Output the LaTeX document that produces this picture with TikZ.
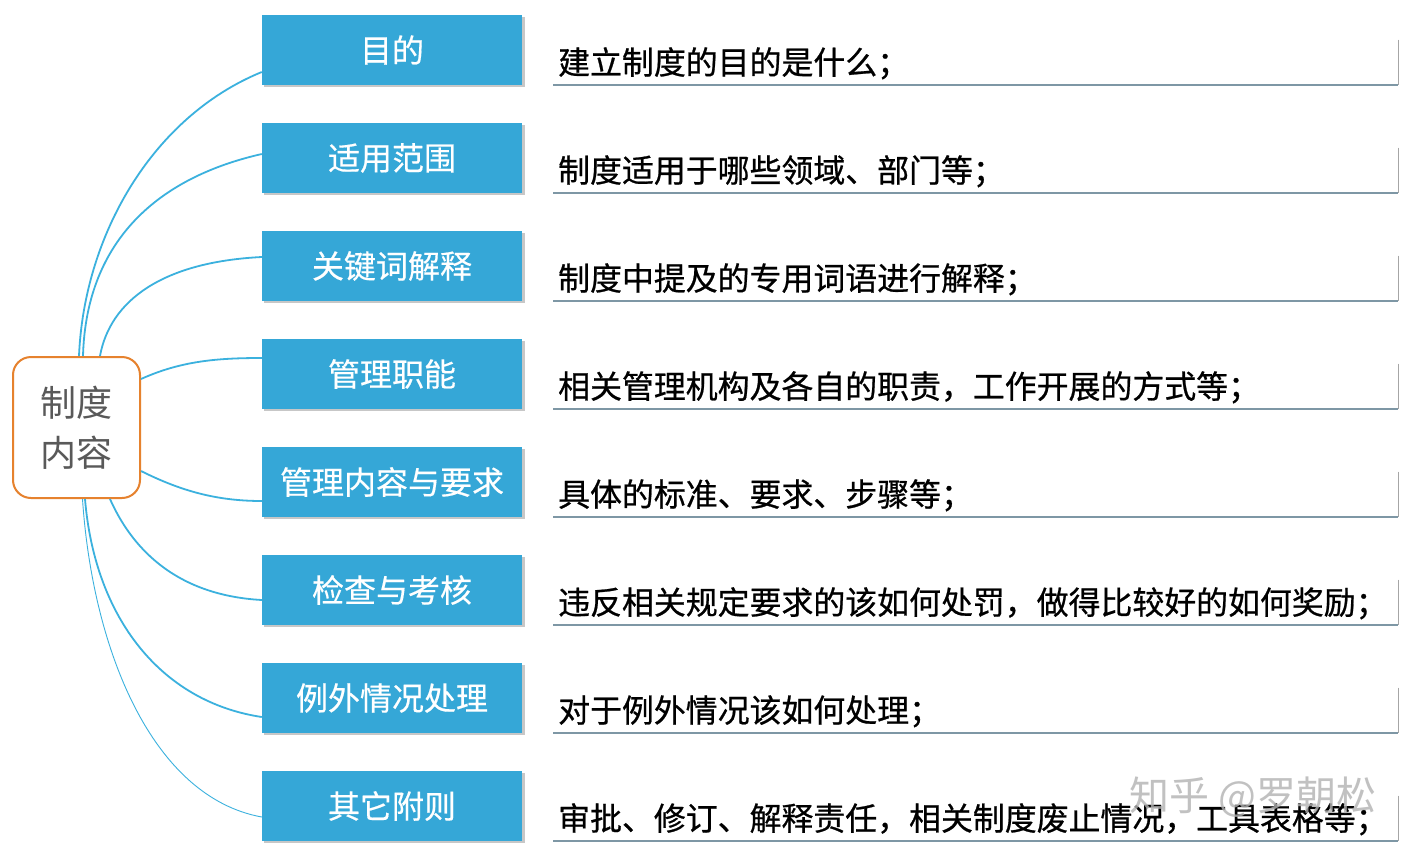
\documentclass[tikz,border=0pt]{standalone}
\usepackage{fontspec}
\newfontfamily\cjk{Noto Sans CJK SC}
\newfontfamily\cjkm[FakeBold=0.7]{Noto Sans CJK SC}
\newfontfamily\cjkl[FakeBold=0.4]{Noto Sans CJK SC}
\definecolor{boxblue}{HTML}{35A7D7}
\definecolor{linkblue}{HTML}{3BB1DE}
\definecolor{centerorange}{HTML}{E6822E}
\definecolor{centertext}{HTML}{595959}
\definecolor{shadowline}{HTML}{7E97A5}
\tikzset{
  centernode/.style={draw=centerorange, line width=2pt, rounded corners=18pt, fill=white,
    minimum width=127pt, minimum height=141pt, align=center, text=centertext,
    font=\cjk\fontsize{36}{50}\selectfont, inner sep=0pt},
  topicbox/.style={fill=boxblue, minimum width=260pt, minimum height=70pt, inner sep=0pt,
    text=white, font=\cjkl\fontsize{32}{36}\selectfont},
  descbox/.style={fill=white, minimum width=845pt, minimum height=45pt, inner sep=0pt,
    anchor=south west},
  desctext/.style={font=\cjkm\fontsize{31.9}{36}\selectfont, text=black, anchor=west, inner sep=0pt},
  link/.style={draw=linkblue, line width=1.8pt},
  thinlink/.style={draw=linkblue, line width=0.9pt},
}
\begin{document}
\begin{tikzpicture}[x=1pt,y=-1pt]
\useasboundingbox[fill=white] (0,0) rectangle (1422,860);

% topic boxes with shadows
\foreach \i/\y/\t in {1/50/目的, 2/158/适用范围, 3/266/关键词解释, 4/374/管理职能,
                      5/482/管理内容与要求, 6/590/检查与考核, 7/698/例外情况处理, 8/806/其它附则}{
  \fill[black!22] (264,\y-33) rectangle (525,\y+37);
  \node[topicbox] (b\i) at (392,\y) {\raisebox{-1pt}{\t}};
}

% description boxes
\foreach \i/\yb/\t in {1/85/建立制度的目的是什么；, 2/193/制度适用于哪些领域、部门等；,
    3/301/制度中提及的专用词语进行解释；, 4/409/相关管理机构及各自的职责，工作开展的方式等；,
    5/517/具体的标准、要求、步骤等；, 6/625/违反相关规定要求的该如何处罚，做得比较好的如何奖励；,
    7/733/对于例外情况该如何处理；, 8/841/审批、修订、解释责任，相关制度废止情况，工具表格等；}{
  \node[descbox] (d\i) at (553,\yb) {};
  \draw[shadowline, line width=2.2pt] (d\i.south west) -- (d\i.south east);
  \draw[black!35, line width=0.8pt] (d\i.north east) -- (d\i.south east);
  \node[desctext] (t\i) at ([xshift=5pt,yshift=-1pt]d\i.west) {\t};
}

% center node
\node[centernode] (c) at (76.5,427.5) {制度\\内容};

% connectors
\draw[link] ([xshift=2.5pt]c.north) .. controls +(5,-120) and +(-110,45) .. ([yshift=-22pt]b1.west);
\draw[link] ([xshift=6.5pt]c.north) .. controls +(3,-110) and +(-110,25) .. ([yshift=4pt]b2.west);
\draw[link] ([xshift=23.5pt]c.north) .. controls +(10,-55) and +(-100,5) .. ([yshift=9pt]b3.west);
\draw[link] ([yshift=-23pt]c.north east) .. controls +(40,-18) and +(-45,0) .. ([yshift=16pt]b4.west);
\draw[link] ([yshift=28pt]c.south east) .. controls +(40,20) and +(-45,0) .. ([yshift=-19pt]b5.west);
\draw[link] ([xshift=33.5pt]c.south) .. controls +(20,45) and +(-90,-5) .. ([yshift=-10pt]b6.west);
\draw[link] ([xshift=8.5pt]c.south) .. controls +(10,120) and +(-100,-15) .. ([yshift=-19pt]b7.west);
\draw[thinlink] ([xshift=6pt]c.south) .. controls +(10,150) and +(-110,-20) .. ([yshift=-11pt]b8.west);

% watermark
\node[text=black!30, opacity=0.8, font=\cjk\fontsize{40}{44}\selectfont, inner sep=0pt] (wm) at (1253,797) {知乎 @罗朝松};
\end{tikzpicture}
\end{document}
